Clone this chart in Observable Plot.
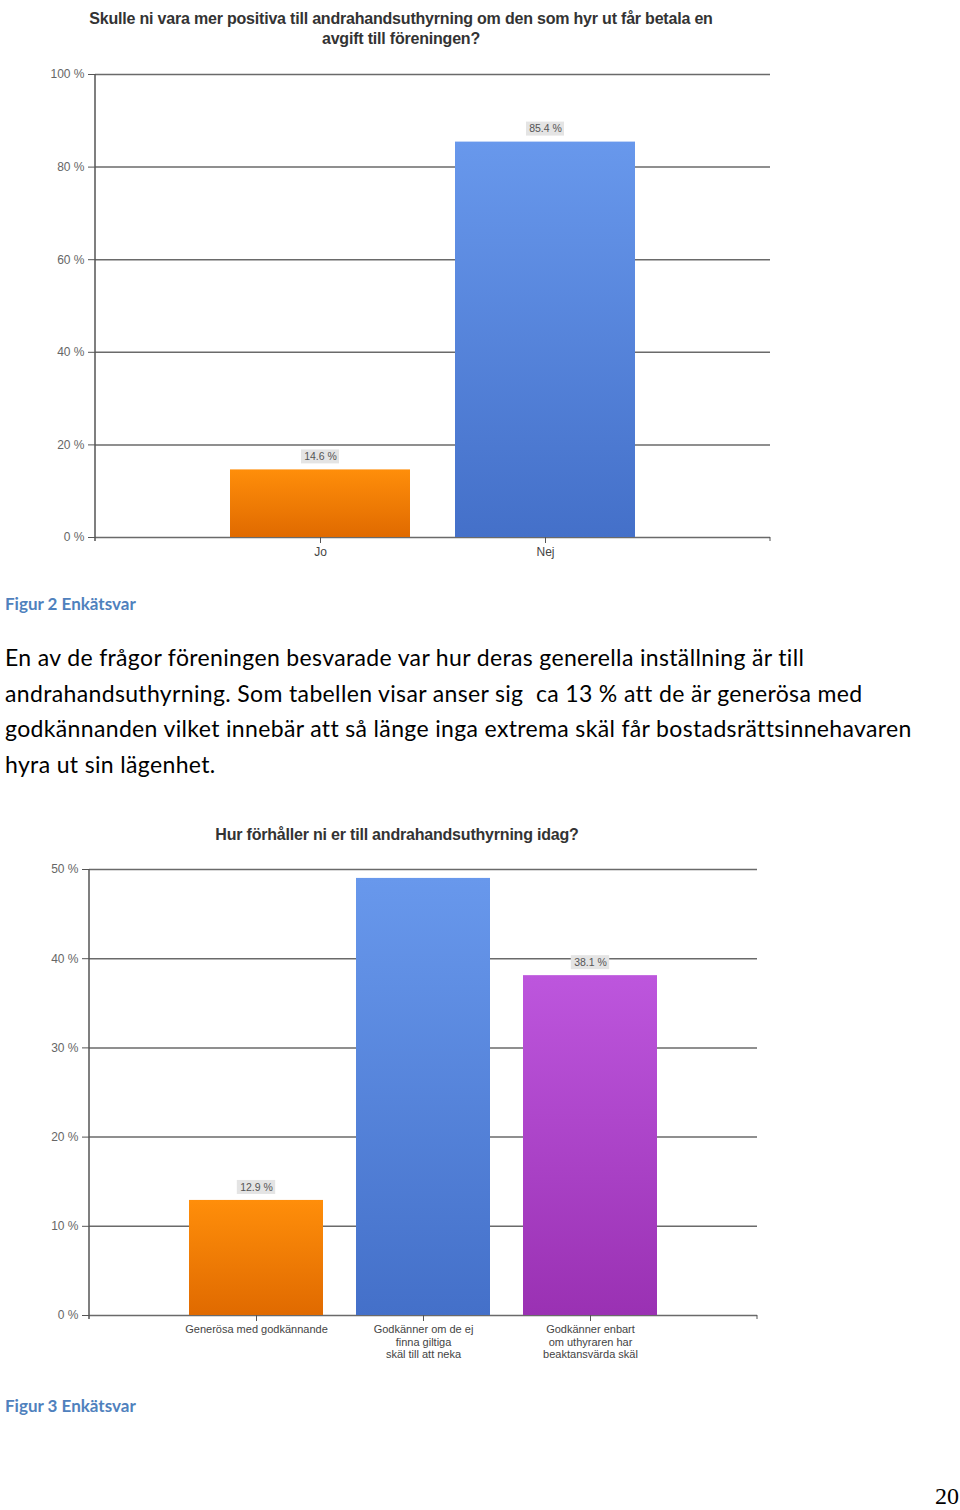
<!DOCTYPE html>
<html>
<head>
<meta charset="utf-8">
<script src="https://cdn.jsdelivr.net/npm/d3@7"></script>
<script src="https://cdn.jsdelivr.net/npm/@observablehq/plot@0.6"></script>
<style>
  html, body { margin: 0; padding: 0; background: #fff; }
  #page { position: relative; width: 960px; height: 1510px; overflow: hidden; background: #fff; }
  .abs { position: absolute; }
  .ctitle { font-family: "Liberation Sans", Arial, sans-serif; font-weight: bold; font-size: 16px; color: #333; text-align: center; line-height: 20px; letter-spacing: -0.2px; }
  .caption { font-family: Lato, "Open Sans", sans-serif; font-weight: bold; font-size: 17px; color: #4F81BD; }
  .body { font-family: Lato, "Open Sans", sans-serif; font-size: 23px; letter-spacing: 0.35px; color: #000; line-height: 35.5px; white-space: pre; }
  .pnum { font-family: "Liberation Serif", "DejaVu Serif", serif; font-size: 24px; color: #000; }
</style>
</head>
<body>
<div id="page">
  <div class="abs ctitle" style="left:41px; top:9px; width:720px;">Skulle ni vara mer positiva till andrahandsuthyrning om den som hyr ut får betala en<br>avgift till föreningen?</div>
  <div id="chart1" class="abs" style="left:0; top:60px;"></div>
  <div class="abs caption" style="left:5px; top:593px;">Figur 2 Enkätsvar</div>
  <div class="abs body" style="left:5px; top:640px;">En av de frågor föreningen besvarade var hur deras generella inställning är till
andrahandsuthyrning. Som tabellen visar anser sig  ca 13 % att de är generösa med
godkännanden vilket innebär att så länge inga extrema skäl får bostadsrättsinnehavaren
hyra ut sin lägenhet.</div>
  <div class="abs ctitle" style="left:97px; top:825px; width:600px;">Hur förhåller ni er till andrahandsuthyrning idag?</div>
  <div id="chart2" class="abs" style="left:0; top:850px;"></div>
  <div class="abs caption" style="left:5px; top:1395px;">Figur 3 Enkätsvar</div>
  <div class="abs pnum" style="left:935px; top:1483px;">20</div>
</div>
<script>
// ---------- DATA ----------
const chart1Categories = ["Jo", "Nej"];
const chart1Values = [14.6, 85.4];
const chart1Labels = ["14.6 %", "85.4 %"];
const chart1Gradients = ["gOrange", "gBlue"];
const chart1Ticks = [0, 20, 40, 60, 80, 100];

const chart2Categories = [
  "Generösa med godkännande",
  "Godkänner om de ej\nfinna giltiga\nskäl till att neka",
  "Godkänner enbart\nom uthyraren har\nbeaktansvärda skäl"
];
const chart2Values = [12.9, 49.0, 38.1];
const chart2Labels = ["12.9 %", null, "38.1 %"];
const chart2Gradients = ["gOrange", "gBlue", "gPurple"];
const chart2Ticks = [0, 10, 20, 30, 40, 50];

const gradientDefs = {
  gOrange: ["#FF8E0A", "#E06A00"],
  gBlue: ["#6898EC", "#4470C9"],
  gPurple: ["#BD56DD", "#9A31B3"]
};

function makeChart(cats, vals, labels, grads, ticks, opts) {
  const data = cats.map((c, i) => ({cat: c, value: vals[i], label: labels[i], grad: `url(#${grads[i]})`}));
  const labelData = data.filter(d => d.label);
  const plotW = opts.width - opts.marginLeft - opts.marginRight;
  const step = plotW / (cats.length - 0.2 + 2 * 0.6);
  const bw = step * 0.8;
  const boxInset = (bw - 38) / 2;
  const plot = Plot.plot({
    width: opts.width,
    height: opts.height,
    marginLeft: opts.marginLeft,
    marginRight: opts.marginRight,
    marginTop: opts.marginTop,
    marginBottom: opts.marginBottom,
    style: {fontFamily: "'Liberation Sans', Arial, sans-serif", fontSize: "12px", color: "#555", background: "transparent"},
    x: {domain: cats, paddingInner: 0.2, paddingOuter: 0.6, label: null},
    y: {domain: [0, ticks[ticks.length - 1]], label: null},
    color: {type: "identity"},
    marks: [
      Plot.ruleY(ticks, {stroke: "#6a6a6a", strokeWidth: 1.5}),
      Plot.barY(data, {x: "cat", y: "value", fill: "grad"}),
      Plot.barY(labelData, {x: "cat", y1: "value", y2: "value", fill: "#e4e4e4", insetTop: -20, insetBottom: 6, insetLeft: boxInset, insetRight: boxInset}),
      Plot.text(labelData, {x: "cat", y: "value", text: "label", dy: -13, fill: "#555", fontSize: 10.5}),
      Plot.axisY({ticks: ticks, tickFormat: d => `${d} %`, tickSize: 7, tickPadding: 4, stroke: "#555", fill: "#666", label: null}),
      Plot.axisX({tickSize: 6, tickPadding: 3, stroke: "#555", fill: "#444", lineHeight: 1.12, fontSize: opts.xFont, label: null})
    ]
  });
  const svg = d3.select(plot);
  const defs = svg.insert("defs", ":first-child");
  for (const [id, [c0, c1]] of Object.entries(gradientDefs)) {
    const g = defs.append("linearGradient").attr("id", id).attr("x1", 0).attr("y1", 0).attr("x2", 0).attr("y2", 1);
    g.append("stop").attr("offset", "0%").attr("stop-color", c0);
    g.append("stop").attr("offset", "100%").attr("stop-color", c1);
  }
  // vertical axis line and right end tick at the frame edges
  const yTop = opts.marginTop;
  const yBot = opts.height - opts.marginBottom;
  svg.append("line").attr("x1", opts.marginLeft).attr("x2", opts.marginLeft)
    .attr("y1", yTop).attr("y2", yBot + 4).attr("stroke", "#555").attr("stroke-width", 1.5);
  svg.append("line").attr("x1", opts.width - opts.marginRight).attr("x2", opts.width - opts.marginRight)
    .attr("y1", yBot).attr("y2", yBot + 4).attr("stroke", "#555").attr("stroke-width", 1);
  return plot;
}

document.getElementById("chart1").appendChild(
  makeChart(chart1Categories, chart1Values, chart1Labels, chart1Gradients, chart1Ticks,
    {width: 800, height: 520, marginLeft: 95, marginRight: 30, marginTop: 14, marginBottom: 43, xFont: 12})
);
document.getElementById("chart2").appendChild(
  makeChart(chart2Categories, chart2Values, chart2Labels, chart2Gradients, chart2Ticks,
    {width: 800, height: 520, marginLeft: 89, marginRight: 43, marginTop: 19, marginBottom: 55, xFont: 11})
);
</script>
</body>
</html>
